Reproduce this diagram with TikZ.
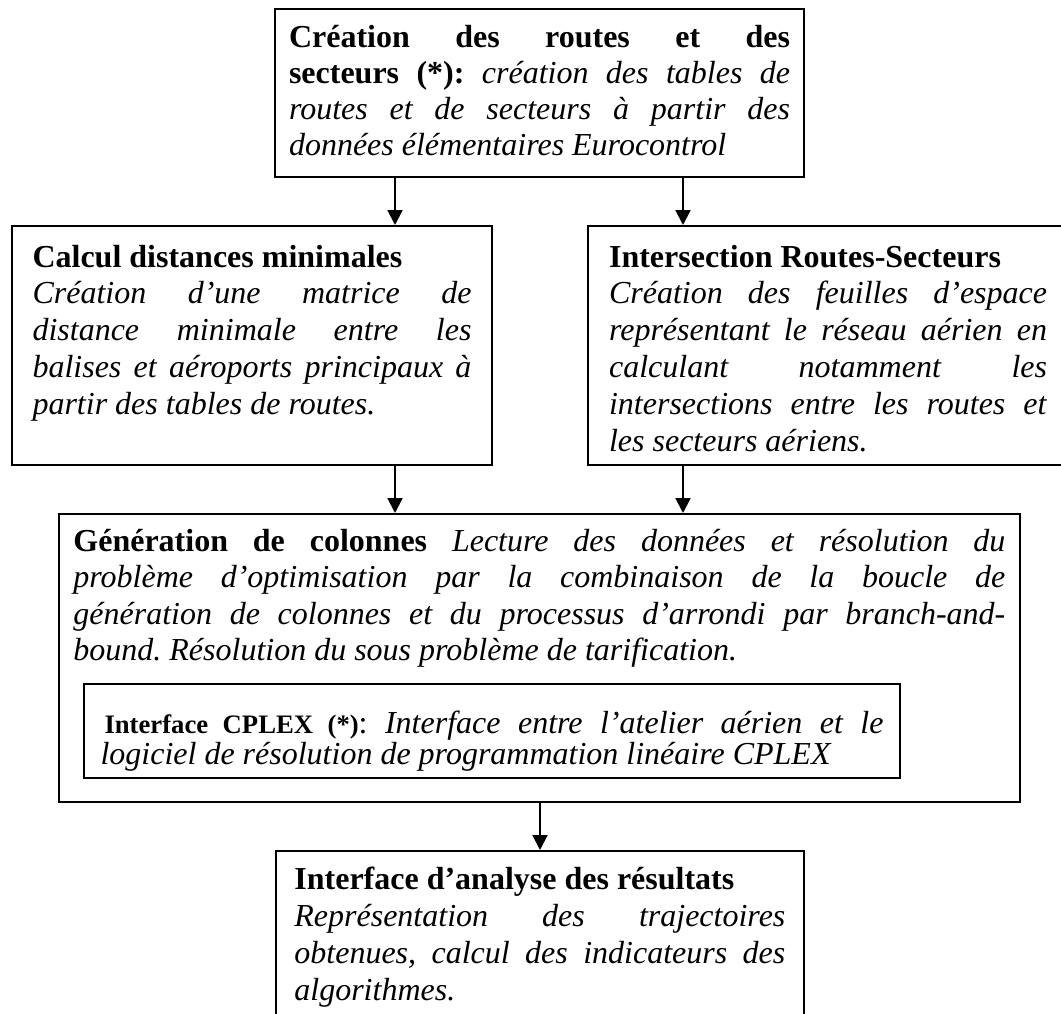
\documentclass[tikz,border=0pt]{standalone}
\usepackage{fontspec}
\setmainfont{Liberation Serif}
\usetikzlibrary{arrows.meta}
\hbadness=10000
\frenchspacing

\begin{document}
\begin{tikzpicture}[x=0.375pt,y=-0.375pt,
	boite/.style={draw,line width=0.75pt,anchor=north west,inner ysep=0pt,align=justify,
		font=\fontsize{12pt}{13.8pt}\selectfont},
	fleche/.style={line width=0.75pt,-{Triangle[length=5.6pt,width=5.6pt]}}]

	\useasboundingbox (0,0) rectangle (1061,1014);

	\node[boite,text width=187.9pt,inner xsep=5.25pt,text height=14.6pt,text depth=48.4pt,
		font=\fontsize{12pt}{13.4pt}\selectfont] (creation) at (274,8)
		{\textbf{Création des routes et des}\linebreak
		\textbf{secteurs (*):} \textit{création des tables de}\linebreak
		\textit{routes et de secteurs à partir des}\linebreak
		\textit{données élémentaires Eurocontrol}};

	\node[boite,text width=164.6pt,inner xsep=7.7pt,text height=15.4pt,text depth=74.2pt] (calcul) at (11,225)
		{\textbf{Calcul distances minimales}\newline
		\textit{Création d’une matrice de}\linebreak
		\textit{distance minimale entre les}\linebreak
		\textit{balises et aéroports principaux à}\linebreak
		\textit{partir des tables de routes.}};

	\node[boite,text width=164.25pt,inner xsep=7.9pt,text height=15.4pt,text depth=74.2pt] (inter) at (587,225)
		{\textbf{Intersection Routes-Secteurs}\newline
		\textit{Création des feuilles d’espace}\linebreak
		\textit{représentant le réseau aérien en}\linebreak
		\textit{calculant notamment les}\linebreak
		\textit{intersections entre les routes et}\linebreak
		\textit{les secteurs aériens.}};

	\node[boite,text width=349.5pt,inner xsep=5.4pt,text height=13.9pt,text depth=94.1pt,
		font=\fontsize{12pt}{13.7pt}\selectfont] (gen) at (58,513)
		{\textbf{Génération de colonnes} \textit{Lecture des données et résolution du}\linebreak
		\textit{problème d’optimisation par la combinaison de la boucle de}\linebreak
		\textit{génération de colonnes et du processus d’arrondi par branch-and-}\linebreak
		\textit{bound. Résolution du sous problème de tarification.}};

	\node[boite,text width=293.6pt,inner xsep=6.2pt,text height=18.4pt,text depth=16.9pt,
		font=\fontsize{12pt}{10.5pt}\selectfont] (cplex) at (83,683)
		{\hspace*{1.5pt}{\fontsize{10pt}{10.5pt}\selectfont\textbf{Interface CPLEX (*)}}: \textit{Interface entre l’atelier aérien et le}\linebreak
		\textit{logiciel de résolution de programmation linéaire CPLEX}};

	\node[boite,text width=184.1pt,inner xsep=6.9pt,text height=14.25pt,text depth=49.5pt,
		font=\fontsize{12pt}{13.9pt}\selectfont] (analyse) at (275,850)
		{\textbf{Interface d’analyse des résultats}\newline
		\textit{Représentation des trajectoires}\linebreak
		\textit{obtenues, calcul des indicateurs des}\linebreak
		\textit{algorithmes.}};

	% fleches
	\coordinate (g) at (395,0);
	\coordinate (d) at (683,0);
	\coordinate (m) at (540,0);
	\draw[fleche] (g |- creation.south) -- (g |- calcul.north);
	\draw[fleche] (d |- creation.south) -- (d |- inter.north);
	\draw[fleche] (g |- calcul.south) -- (g |- gen.north);
	\draw[fleche] (d |- inter.south) -- (d |- gen.north);
	\draw[fleche] (m |- gen.south) -- (m |- analyse.north);
\end{tikzpicture}
\end{document}
